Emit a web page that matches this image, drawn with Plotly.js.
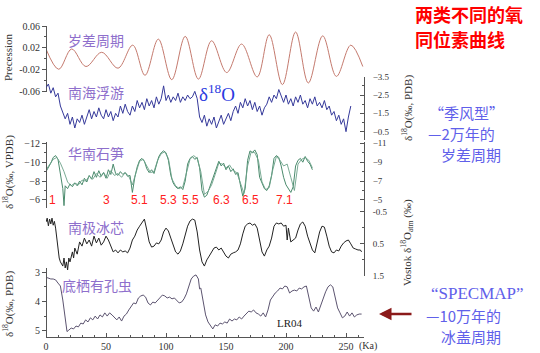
<!DOCTYPE html>
<html><head><meta charset="utf-8">
<script src="https://cdn.plot.ly/plotly-3.0.1.min.js"></script>
<style>html,body{margin:0;padding:0;background:#fff;}</style>
</head><body>
<div id="chart" style="width:540px;height:353px;"></div>
<script>
// ---- Data (ages in ka) ----
const precAge = [0, 10.6, 21.4, 33.3, 46.4, 60, 72.3, 82.5, 93.6, 104.8, 116, 127, 138, 150.6, 163, 176, 186, 197, 208, 218.6, 230.6, 242, 254, 264];
const precVal = [0.018, -0.019, 0.018, -0.014, 0.012, -0.017, 0.025, -0.030, 0.036, -0.038, 0.041, -0.037, 0.033, -0.025, 0.027, -0.033, 0.044, -0.047, 0.049, -0.044, 0.042, -0.032, 0.025, -0.014];

const scsAge = [0,2,4,6,8,10,12,14,16,18,20,22,24,26,28,30,32,34,36,38,40,42,44,46,48,50,52,54,56,58,60,62,64,66,68,70,72,74,76,78,80,82,84,86,88,90,92,94,96,98,100,102,104,106,108,110,112,114,116,118,120,122,124,126,128,130,132,134,136,138,140,142,144,146,148,150,152,154,156,158,160,162,164,166,168,170,172,174,176,178,180,182,184,186,188,190,192,194,196,198,200,202,204,206,208,210,212,214,216,218,220,222,224,226,228,230,232,234,236,238,240,242,244,246,248,250,252,254];
const scsVal = [-2.9,-3.1,-2.6,-2.9,-2.4,-2.6,-1.9,-1.6,-1.2,-1.5,-0.9,-1.3,-0.7,-1.2,-1.0,-1.4,-0.9,-1.3,-1.7,-1.2,-1.6,-1.3,-1.8,-1.4,-1.2,-1.7,-1.3,-1.6,-1.1,-1.5,-1.3,-1.9,-1.5,-2.0,-1.6,-1.4,-1.9,-1.6,-2.2,-1.8,-2.1,-1.7,-2.3,-1.9,-2.2,-1.8,-2.4,-2.0,-2.3,-3.0,-2.2,-2.5,-2.1,-2.4,-2.2,-2.6,-2.1,-2.4,-2.2,-2.5,-2.3,-2.4,-2.7,-2.3,-1.3,-1.0,-1.4,-0.8,-1.2,-0.9,-1.3,-0.7,-1.1,-1.4,-0.9,-1.2,-1.5,-1.1,-1.6,-1.9,-1.5,-2.1,-1.8,-2.3,-1.9,-2.2,-1.7,-2.1,-1.6,-1.9,-1.4,-1.8,-2.0,-2.4,-2.1,-2.5,-2.3,-2.8,-2.4,-2.1,-2.5,-2.0,-2.3,-1.9,-2.4,-2.1,-2.5,-2.0,-2.2,-1.8,-2.3,-2.0,-2.4,-1.9,-2.1,-1.8,-2.2,-1.7,-1.9,-1.4,-1.6,-1.1,-1.4,-0.9,-1.2,-0.5,-1.3,-1.9];

const stalAAge = [0,2,4,6,8,10,12,14,15,16,18,20,22,24,26,28,30,32,34,36,38,40,42,44,46,48,50,52,54,56,58,60,62,64,66,68,70,72,74,76,78,80,82,84,86,88,90,92,94,96,98,100,102,104,106,108,110,112,114,116,118,120,122,124,126,128,130,132,134,136,138,140,142,144,146,148,150,152,154,156,158,160,162,164,166,168,170,172,174,176,178,180,182,184,186,188,190,192,194,196,198,200,202,204,206,208,210,212,214,216,218,220,222];
const stalAVal = [-9.0,-9.4,-9.9,-10.5,-10.7,-10.3,-8.5,-7.2,-5.4,-7.5,-7.2,-7.7,-7.4,-7.8,-7.5,-8.0,-7.6,-8.3,-7.9,-8.6,-8.2,-9.0,-8.4,-9.1,-8.5,-8.9,-8.3,-9.2,-8.7,-9.8,-8.8,-8.6,-9.0,-8.7,-8.9,-8.5,-8.6,-6.8,-8.4,-9.5,-10.2,-10.4,-10.1,-9.3,-8.9,-9.2,-8.8,-9.6,-10.6,-11.0,-11.2,-11.0,-10.2,-8.6,-7.8,-7.4,-7.2,-7.4,-7.1,-8.0,-9.8,-10.4,-10.6,-10.3,-10.5,-9.4,-7.0,-6.3,-6.5,-7.2,-7.9,-8.6,-9.4,-10.1,-9.6,-9.9,-9.2,-9.6,-9.0,-9.3,-8.7,-8.9,-7.6,-6.4,-7.2,-10.2,-11.2,-11.0,-11.3,-10.8,-8.4,-7.8,-7.2,-7.0,-7.5,-8.6,-10.4,-10.7,-10.5,-9.6,-8.4,-7.6,-7.2,-6.8,-7.4,-9.6,-10.2,-10.4,-10.0,-10.6,-10.1,-9.8,-9.2];

const stalBAge = [0,3,6,9,12,15,18,21,24,27,30,33,36,39,42,45,48,51,54,57,60,63,66,69,72,75,78,81,84,87,90,93,96,99,102,105,108,111,114,117,120,123,126,129,132,135,138,141,144,147,150,153,156,159,162,165,168,171,174,177,180,183,186,189,192,195,198,201,204,207,210,213,216,219,222];
const stalBVal = [-8.2,-8.8,-9.3,-9.5,-8.9,-8.0,-6.9,-6.5,-6.8,-6.6,-7.1,-7.0,-7.5,-7.2,-7.8,-7.4,-7.9,-7.3,-8.1,-7.6,-7.8,-7.4,-7.9,-7.5,-6.6,-7.9,-9.1,-9.3,-8.6,-7.9,-8.0,-9.2,-9.9,-10.1,-9.4,-7.2,-6.5,-6.2,-6.4,-7.9,-9.3,-9.7,-9.4,-8.0,-5.6,-5.9,-6.6,-7.7,-8.9,-8.8,-8.4,-8.7,-8.1,-7.9,-6.8,-5.7,-8.6,-10.1,-10.0,-9.2,-6.9,-6.1,-6.3,-8.2,-9.6,-9.2,-8.6,-8.8,-7.4,-6.0,-8.8,-9.3,-9.5,-9.2,-8.4];

const vosAge = [0,1,2,3,4,5,6,7,8,9,10,11,12,14,15,16,17,18,19,20,22,23,24,26,28,30,32,34,36,38,40,42,44,46,48,50,52,54,56,58,60,62,64,66,68,70,72,74,76,78,80,82,84,86,88,90,92,94,96,98,100,102,104,106,108,110,112,114,116,118,120,122,124,126,128,130,132,134,136,138,140,142,144,146,148,150,152,154,156,158,160,162,164,166,168,170,172,174,176,178,180,182,184,186,188,190,192,194,196,198,200,201,202,204,206,208,210,212,214,216,218,220,222,224,226,228,230,232,234,236,238,240,242,244,246,248,250,252,254,256,258,260,262,263];
const vosVal = [-0.18,-0.30,-0.06,-0.27,-0.12,-0.30,-0.08,-0.20,0.01,0.38,0.75,0.94,1.06,1.19,0.94,1.25,1.06,1.31,0.94,1.06,0.75,0.94,0.63,0.82,0.44,0.57,0.32,0.50,0.38,0.57,0.26,0.47,0.32,0.54,0.44,0.26,0.38,0.57,0.75,0.69,0.78,0.69,0.75,0.72,0.78,0.63,0.38,0.26,0.07,-0.05,-0.18,-0.27,0.07,0.44,0.60,0.57,0.47,0.50,0.38,0.13,0.01,0.10,0.32,0.57,0.75,0.82,0.72,0.50,0.19,-0.05,-0.21,-0.27,-0.24,0.13,0.69,1.06,1.19,1.00,0.88,0.75,0.63,0.60,0.69,0.63,0.78,0.88,0.94,0.82,0.78,0.75,0.69,0.50,0.19,-0.05,-0.12,-0.15,-0.08,-0.12,0.01,0.38,0.75,0.88,0.69,0.57,0.32,-0.05,-0.15,-0.12,-0.15,-0.05,-0.08,0.38,0.01,0.44,0.38,0.32,0.07,-0.12,-0.18,-0.05,0.26,0.50,0.69,0.78,0.50,0.13,-0.05,-0.02,0.26,0.57,0.75,0.78,0.69,0.72,0.57,0.47,0.41,0.38,0.50,0.63,0.66,0.69,0.69,0.75];

const lrAge = [0,2,4,6,8,10,12,14,16,17.5,19,21,23,25,27,29,31,33,35,37,39,41,43,45,47,49,51,53,55,57,59,61,63,65,67,69,71,73,75,77,79,81,83,85,87,89,91,93,95,97,99,101,103,105,107,109,111,113,115,117,119,121,123,125,127,128,129,131,133,135,137,139,141,143,145,147,149,151,153,155,157,159,161,163,165,167,169,171,173,175,177,179,181,183,185,187,189,191,193,195,197,199,201,203,205,207,209,211,213,215,217,219,221,223,225,227,229,231,233,235,237,239,241,243,245,247,249,251,253,255,257,259,261,263];
const lrVal = [3.17,3.20,3.23,3.23,3.26,3.37,3.47,3.95,4.56,5.03,4.98,4.91,4.94,4.84,4.87,4.74,4.77,4.63,4.70,4.56,4.63,4.50,4.60,4.46,4.53,4.39,4.50,4.39,4.46,4.56,4.63,4.53,4.67,4.50,4.43,4.29,4.15,4.05,4.08,3.88,3.81,3.78,3.85,4.05,4.12,4.02,4.05,3.95,3.85,3.78,3.81,3.88,3.85,3.91,3.88,3.98,4.05,4.02,3.91,3.74,3.47,3.23,3.13,3.09,3.23,3.57,3.54,3.95,4.46,4.70,4.80,4.94,4.80,4.84,4.74,4.77,4.70,4.74,4.60,4.67,4.60,4.63,4.53,4.60,4.50,4.43,4.33,4.36,4.29,4.39,4.43,4.50,4.39,4.53,4.29,3.95,3.81,3.71,3.64,3.54,3.57,3.47,3.50,3.71,3.64,3.61,3.64,3.54,3.57,3.50,3.47,3.88,4.22,4.33,4.19,4.36,4.12,3.88,3.67,3.50,3.43,3.50,3.85,4.22,4.39,4.56,4.50,4.36,4.50,4.39,4.53,4.46,4.43,4.43];

const stageLabels = ['1','3','5.1','5.3','5.5','6.3','6.5','7.1'];
const stageAges = [5, 50, 77.5, 101.7, 120, 146, 170, 199];

const xTickVals = [0,50,100,150,200,250];

// ---- Styles ----
const serif = 'Liberation Serif, Times New Roman, serif';
const cjk = 'Noto Sans CJK SC, sans-serif';
const axisCol = '#555';
const tickFontL = {family: serif, size: 10, color: '#333'};
const tickFontR = {family: serif, size: 9, color: '#333'};
const purple = '#8e6fcc';

const traces = [
  {x: precAge, y: precVal, xaxis: 'x', yaxis: 'y', mode: 'lines', line: {color: '#c47a6e', width: 1, shape: 'spline', smoothing: 1}},
  {x: scsAge, y: scsVal, xaxis: 'x', yaxis: 'y2', mode: 'lines', line: {color: '#35399a', width: 1}},
  {x: stalAAge, y: stalAVal, xaxis: 'x', yaxis: 'y3', mode: 'lines', line: {color: '#4a8a6c', width: 1}},
  {x: stalBAge, y: stalBVal, xaxis: 'x', yaxis: 'y4', mode: 'lines', line: {color: '#6aa088', width: 0.9}},
  {x: vosAge, y: vosVal, xaxis: 'x', yaxis: 'y5', mode: 'lines', line: {color: '#222', width: 1}},
  {x: lrAge, y: lrVal, xaxis: 'x', yaxis: 'y6', mode: 'lines', line: {color: '#5c5470', width: 1}}
];

function yax(o) {
  return Object.assign({
    anchor: 'free', showline: true, linecolor: axisCol, linewidth: 1,
    showgrid: false, zeroline: false, ticklen: 4, tickcolor: axisCol,
    fixedrange: true
  }, o);
}

const layout = {
  width: 540, height: 353,
  margin: {l: 46, r: 176, t: 26, b: 16},
  paper_bgcolor: '#fff', plot_bgcolor: 'rgba(0,0,0,0)',
  showlegend: false,
  xaxis: {domain: [0, 1], range: [0, 265], anchor: 'free', position: 0,
    showline: true, linecolor: axisCol, showgrid: false, zeroline: false,
    tickvals: xTickVals, ticks: 'inside', ticklen: 4, tickcolor: axisCol,
    minor: {dtick: 10, tick0: 0, ticks: 'inside', ticklen: 2, tickcolor: axisCol},
    tickfont: {family: serif, size: 10, color: '#333'}},
  xaxis2: {overlaying: 'x', side: 'top', anchor: 'free', position: 1, range: [0, 265],
    showline: true, linecolor: axisCol, showgrid: false, zeroline: false,
    ticks: 'outside', dtick: 50, tick0: 0, ticklen: 4, tickcolor: axisCol, showticklabels: false,
    minor: {dtick: 10, tick0: 0, ticks: 'outside', ticklen: 2, tickcolor: axisCol}},
  yaxis: yax({domain: [0.7887, 1], range: [-0.06, 0.06], position: 0, side: 'left',
    tickvals: [-0.06, -0.02, 0.02, 0.06], ticktext: ['-0.06', '-0.02', '0.02', '0.06'],
    ticks: 'outside', tickfont: tickFontL,
    minor: {dtick: 0.02, tick0: 0, ticks: 'outside', ticklen: 2, tickcolor: axisCol}}),
  yaxis2: yax({domain: [0.6334, 0.837], range: [-0.045, -3.5], position: 1, side: 'right',
    tickvals: [-3.5, -2.5, -1.5, -0.5], ticks: 'inside', tickfont: tickFontR, ticklabelstandoff: 6,
    minor: {dtick: 0.5, tick0: 0, ticks: 'inside', ticklen: 2, tickcolor: axisCol}}),
  yaxis3: yax({domain: [0.4148, 0.628], range: [-5.15, -12.17], position: 0, side: 'left',
    tickvals: [-12, -10, -8, -6], ticks: 'outside', tickfont: tickFontL,
    minor: {dtick: 1, tick0: 0, ticks: 'outside', ticklen: 2, tickcolor: axisCol}}),
  yaxis4: yax({domain: [0.4148, 0.628], range: [-4.15, -11.17], position: 1, side: 'right', overlaying: 'y3',
    tickvals: [-11, -9, -7, -5], ticks: 'inside', tickfont: tickFontR, ticklabelstandoff: 6,
    minor: {dtick: 1, tick0: 0, ticks: 'inside', ticklen: 2, tickcolor: axisCol}}),
  yaxis5: yax({domain: [0.196, 0.4148], range: [1.5, -0.615], position: 1, side: 'right',
    tickvals: [-0.5, 0.5, 1.5], ticktext: ['-0.5', '0.5', '1.5'], ticks: 'inside', tickfont: tickFontR, ticklabelstandoff: 6,
    minor: {dtick: 0.5, tick0: 0, ticks: 'inside', ticklen: 2, tickcolor: axisCol}}),
  yaxis6: yax({domain: [0, 0.2219], range: [5.216, 2.853], position: 0, side: 'left',
    tickvals: [3, 4, 5], ticks: 'outside', tickfont: tickFontL,
    minor: {dtick: 0.5, tick0: 0, ticks: 'outside', ticklen: 2, tickcolor: axisCol}}),
  annotations: []
};

function px2x(p) { return (p - 46) / 318; }
function py2y(p) { return (337 - p) / 311; }
function ann(text, px, py, font, extra) {
  layout.annotations.push(Object.assign({text: text, xref: 'paper', yref: 'paper', x: px2x(px), y: py2y(py),
    showarrow: false, font: font, xanchor: 'center', yanchor: 'middle'}, extra || {}));
}

// panel titles
const titleFont = {family: cjk, size: 14, color: purple};
ann('岁差周期', 96, 40, titleFont);
ann('南海浮游', 96, 92, titleFont);
ann('华南石笋', 96, 153, titleFont);
ann('南极冰芯', 96, 227, titleFont);
ann('底栖有孔虫', 97, 285, titleFont);
ann('δ<sup>18</sup>O', 217, 93, {family: serif, size: 19, color: '#2a3ae0'});

// axis titles
const axTitleFont = {family: serif, size: 11, color: '#333'};
ann('Precession', 8, 57, axTitleFont, {textangle: -90});
ann('δ<sup>18</sup>O(‰, VPDB)', 8, 172, axTitleFont, {textangle: -90});
ann('δ<sup>18</sup>O(‰, PDB)', 8, 304, axTitleFont, {textangle: -90});
ann('δ<sup>18</sup>O(‰, PDB)', 407, 108, axTitleFont, {textangle: -90});
ann('Vostok δ<sup>18</sup>O<sub>atm</sub> (‰)', 407, 243, axTitleFont, {textangle: -90});
ann('LR04', 290, 323, {family: serif, size: 11, color: '#222'});
ann('(Ka)', 368, 346, {family: serif, size: 10, color: '#333'});

// stage labels
for (let i = 0; i < stageLabels.length; i++) {
  layout.annotations.push({text: stageLabels[i], xref: 'x', yref: 'paper', x: stageAges[i], y: py2y(200),
    showarrow: false, font: {family: 'Liberation Sans, Arial, sans-serif', size: 12, color: '#ff2020'},
    xanchor: 'center', yanchor: 'middle'});
}

// right-side commentary
const redFont = {family: cjk, size: 18, color: '#ff0000', weight: 'bold'};
ann('两类不同的氧', 413, 14, redFont, {xanchor: 'left'});
ann('同位素曲线', 413, 39, redFont, {xanchor: 'left'});
const blueFont = {family: cjk, size: 15, color: '#6060ea'};
ann('“季风型”', 466, 112, blueFont);
ann('—2万年的', 461, 133, blueFont);
ann('岁差周期', 471, 154, blueFont);
ann('“SPECMAP”', 477, 293, {family: serif, size: 17, color: '#6060ea'});
ann('—10万年的', 463, 315, blueFont);
ann('冰盖周期', 471, 336, blueFont);

// arrow
layout.annotations.push({text: '', xref: 'paper', yref: 'paper', x: px2x(379), y: py2y(314),
  showarrow: true, ax: 34, ay: 0, arrowcolor: '#8b1a1a', arrowwidth: 2.5, arrowhead: 2, arrowsize: 1});

Plotly.newPlot('chart', traces, layout, {staticPlot: true, displayModeBar: false});
</script>
</body></html>
